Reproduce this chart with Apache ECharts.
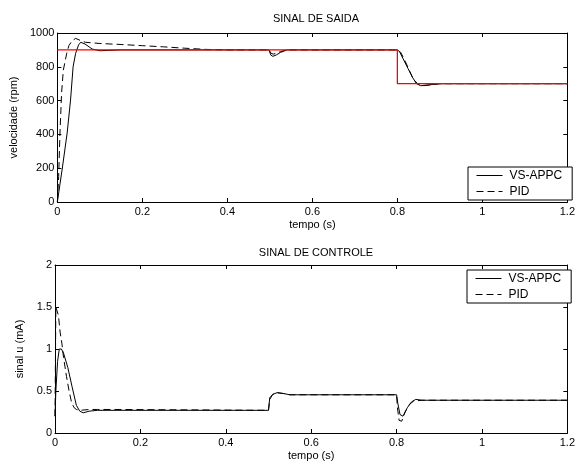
<!DOCTYPE html>
<html>
<head>
<meta charset="utf-8">
<script src="https://cdn.jsdelivr.net/npm/echarts@6/dist/echarts.min.js"></script>
<style>
  html, body { margin: 0; padding: 0; background: #fff; }
  #main { width: 578px; height: 463px; }
</style>
</head>
<body>
<div id="main"></div>
<script>
// speed plot (rpm)
var tVsSpeed = [0, 0.004, 0.012, 0.023, 0.031, 0.037, 0.043, 0.05, 0.055, 0.065, 0.082, 0.1, 0.12, 0.15, 0.498, 0.502, 0.507, 0.515, 0.525, 0.54, 0.8, 0.805, 0.815, 0.825, 0.835, 0.845, 0.855, 0.87, 0.9, 1.2];
var vsSpeed = [0, 0, 207, 408, 603, 800, 880, 930, 945, 935, 905, 895, 897, 900, 900, 870, 862, 870, 885, 900, 900, 890, 840, 790, 740, 700, 688, 692, 700, 700];
var tPidSpeed = [0, 0.003, 0.006, 0.01, 0.014, 0.018, 0.022, 0.027, 0.035, 0.043, 0.055, 0.066, 0.1, 0.15, 0.2, 0.25, 0.3, 0.35, 0.4, 0.498, 0.503, 0.508, 0.515, 0.525, 0.54, 0.8, 0.808, 0.818, 0.828, 0.838, 0.85, 0.86, 0.875, 0.9, 1.2];
var pidSpeed = [0, 150, 400, 650, 780, 830, 880, 925, 955, 968, 955, 945, 938, 932, 925, 918, 910, 903, 900, 900, 880, 875, 880, 890, 900, 900, 885, 835, 780, 725, 695, 688, 692, 700, 700];
var tRef = [0, 0.8, 0.8, 1.2];
var refSpeed = [900, 900, 700, 700];

// control plot (mA)
var tVsU = [0, 0.002, 0.006, 0.01, 0.015, 0.02, 0.03, 0.04, 0.05, 0.058, 0.066, 0.08, 0.1, 0.5, 0.503, 0.51, 0.52, 0.535, 0.55, 0.8, 0.803, 0.808, 0.815, 0.825, 0.835, 0.845, 0.86, 1.2];
var vsU = [0.2, 0.5, 0.85, 1.0, 1.0, 0.95, 0.78, 0.55, 0.33, 0.26, 0.24, 0.26, 0.27, 0.27, 0.42, 0.46, 0.48, 0.47, 0.455, 0.455, 0.35, 0.22, 0.2, 0.3, 0.37, 0.4, 0.39, 0.39];
var tPidU = [0, 0.002, 0.004, 0.008, 0.012, 0.016, 0.02, 0.027, 0.033, 0.039, 0.045, 0.05, 0.06, 0.08, 0.1, 0.15, 0.5, 0.503, 0.51, 0.52, 0.535, 0.55, 0.8, 0.802, 0.806, 0.812, 0.82, 0.83, 0.84, 0.86, 1.2];
var pidU = [0.2, 1.5, 1.5, 1.4, 1.2, 1.07, 0.9, 0.67, 0.5, 0.36, 0.3, 0.28, 0.27, 0.28, 0.28, 0.28, 0.27, 0.4, 0.46, 0.48, 0.47, 0.455, 0.455, 0.3, 0.15, 0.14, 0.25, 0.34, 0.38, 0.39, 0.39];

var seriesNames = ['VS-APPC', 'PID'];
var titles = ['SINAL DE SAIDA', 'SINAL DE CONTROLE'];
var yNames = ['velocidade (rpm)', 'sinal u (mA)'];

function pairs(xs, ys) {
    var out = [];
    for (var i = 0; i < xs.length; i++) out.push([xs[i], ys[i]]);
    return out;
}

var font = 'Liberation Sans, Arial, sans-serif';
var black = '#000';

function xAx(grid, pos, withLabels) {
    return {
        type: 'value', gridIndex: grid, position: pos, min: 0, max: 1.2, interval: 0.2,
        name: withLabels ? 'tempo (s)' : '', nameLocation: 'middle', nameGap: 17,
        nameTextStyle: { color: black, fontSize: 11, fontFamily: font },
        axisLine: { show: true, onZero: false, lineStyle: { color: black, width: 1 } },
        axisTick: { show: true, inside: true, length: 4, lineStyle: { color: black } },
        axisLabel: { show: withLabels, color: black, fontSize: 11, fontFamily: font, margin: 4,
                     formatter: function (v) { return String(v); } },
        splitLine: { show: false }
    };
}
function yAx(grid, pos, withLabels, max, interval) {
    return {
        type: 'value', gridIndex: grid, position: pos, min: 0, max: max, interval: interval,
        name: withLabels ? yNames[grid] : '', nameLocation: 'middle', nameGap: grid === 0 ? 28 : 26,
        nameTextStyle: { color: black, fontSize: 11, fontFamily: font },
        axisLine: { show: true, onZero: false, lineStyle: { color: black, width: 1 } },
        axisTick: { show: true, inside: true, length: 4, lineStyle: { color: black } },
        axisLabel: { show: withLabels, color: black, fontSize: 11, fontFamily: font, margin: 3,
                     formatter: function (v) { return String(v); } },
        splitLine: { show: false }
    };
}

function line(name, data, xi, yi, dashed, color) {
    return {
        name: name, type: 'line', xAxisIndex: xi, yAxisIndex: yi, data: data,
        showSymbol: false, symbol: 'none', animation: false,
        lineStyle: { color: color || black, width: color ? 1.3 : 1, type: dashed ? [7, 4] : 'solid' },
        itemStyle: { color: color || black },
        z: color ? 3 : 2
    };
}

var legendBase = {
    orient: 'vertical', data: seriesNames, itemWidth: 26, itemHeight: 10, itemGap: 3,
    backgroundColor: '#fff', borderColor: black, borderWidth: 1, borderRadius: 0,
    padding: [2, 10, 2, 8], selectedMode: false,
    itemStyle: { opacity: 0 },
    lineStyle: { width: 1, type: 'inherit' },
    textStyle: { color: black, fontSize: 12, lineHeight: 13, fontFamily: font, padding: [0, 0, 0, 2] }
};

var myChart = echarts.init(document.getElementById('main'));
var option = {
    backgroundColor: '#fff',
    animation: false,
    title: [
        { text: titles[0], left: 311, top: 8, textAlign: 'center', textStyle: { fontSize: 11, fontWeight: 'normal', color: black, fontFamily: font } },
        { text: titles[1], left: 311, top: 242, textAlign: 'center', textStyle: { fontSize: 11, fontWeight: 'normal', color: black, fontFamily: font } }
    ],
    grid: [
        { left: 55, top: 33, width: 513, height: 169 },
        { left: 55, top: 265, width: 513, height: 168 }
    ],
    legend: [
        Object.assign({}, legendBase, { left: 468, top: 167 }),
        Object.assign({}, legendBase, { left: 467, top: 270 })
    ],
    xAxis: [xAx(0, 'bottom', true), xAx(0, 'top', false), xAx(1, 'bottom', true), xAx(1, 'top', false)],
    yAxis: [yAx(0, 'left', true, 1000, 200), yAx(0, 'right', false, 1000, 200),
            yAx(1, 'left', true, 2, 0.5), yAx(1, 'right', false, 2, 0.5)],
    series: [
        line('VS-APPC', pairs(tVsSpeed, vsSpeed), 0, 0, false),
        line('PID', pairs(tPidSpeed, pidSpeed), 0, 0, true),
        line('ref', pairs(tRef, refSpeed), 0, 0, false, '#ff0000'),
        line('VS-APPC', pairs(tVsU, vsU), 2, 2, false),
        line('PID', pairs(tPidU, pidU), 2, 2, true)
    ]
};
myChart.setOption(option);
</script>
</body>
</html>
